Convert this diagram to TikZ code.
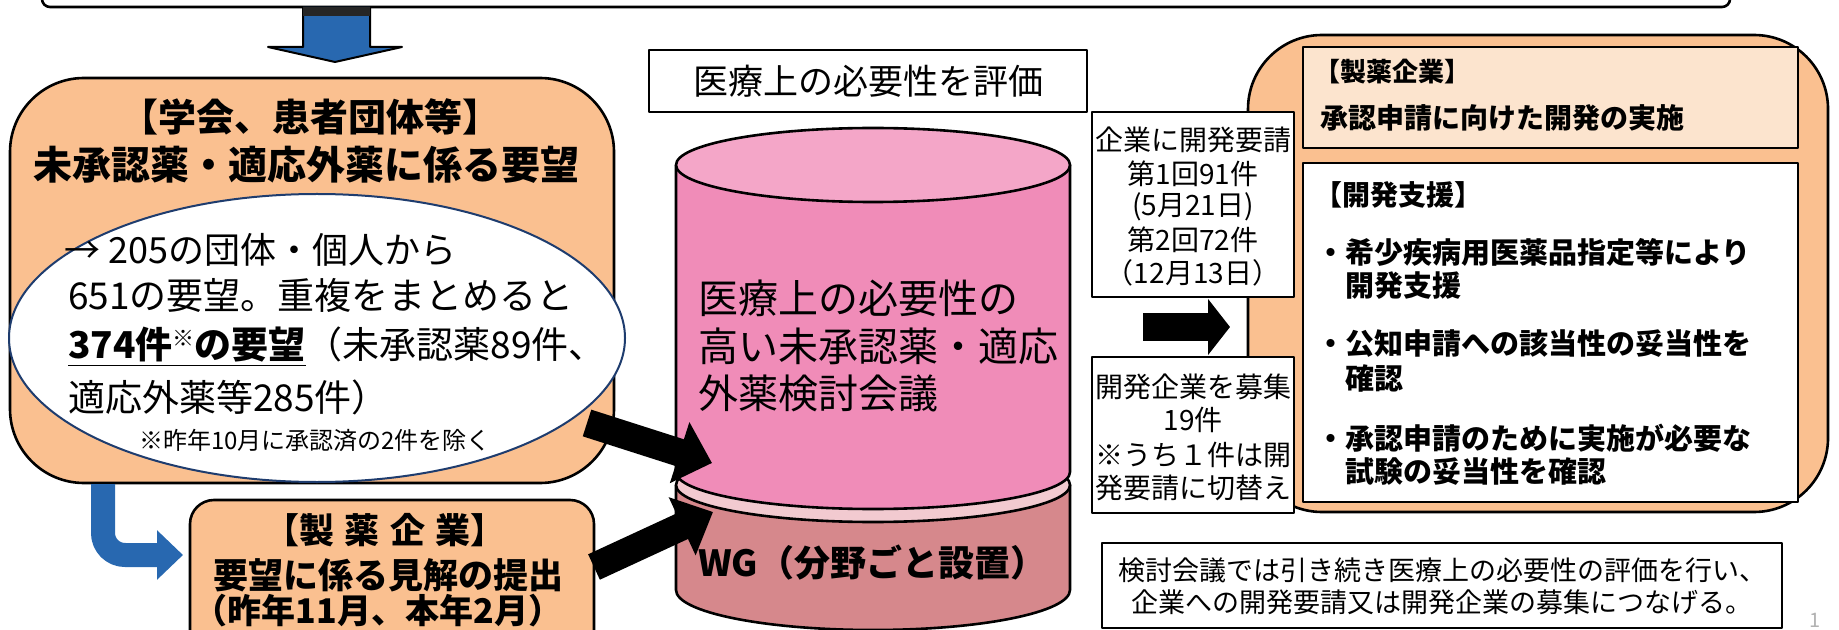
\documentclass[tikz,border=0pt]{standalone}
\usepackage{fontspec}
\setmainfont{Noto Sans CJK JP}
\usetikzlibrary{arrows.meta,fit,shapes.geometric}
\definecolor{peach}{RGB}{250,192,144}
\definecolor{peachlt}{RGB}{252,228,206}
\definecolor{cylpink}{RGB}{240,140,184}
\definecolor{cyltop}{RGB}{244,166,200}
\definecolor{cylband}{RGB}{242,202,208}
\definecolor{cyllow}{RGB}{214,136,140}
\definecolor{arrblue}{RGB}{40,104,176}
\definecolor{ellblue}{RGB}{30,60,110}
\begin{document}
\begin{tikzpicture}[x=0.5pt,y=-0.5pt,line join=round,
  frame/.style={draw=black,line width=1.3pt,inner sep=0pt,fill=white},
  orangebox/.style={frame,fill=peach},
  txt/.style={inner sep=0pt,outer sep=0pt,font=\fontsize{#1}{#1}\selectfont},
  btxt/.style={inner sep=0pt,outer sep=0pt,font=\fontsize{#1}{#1}\selectfont\bfseries},
  blockarrow/.style={black,line width=14pt,-{Triangle[length=17pt,width=31pt]}},
]
\useasboundingbox (0,0) rectangle (1839,630);
\fill[white] (0,0) rectangle (1839,630);

% top box
\node[fit={(42,-60) (1730,7)},frame,rounded corners=4pt] (topbox) {};

% blue down arrow
\draw[fill=arrblue,draw=black,line width=1pt] (303,7) -- (303,47) -- (268,47) -- (335,62) -- (402,47) -- (370,47) -- (370,7);
\fill[black!85] (303,7) rectangle (370,16);

% left box
\node[fit={(10,78) (614,483)},orangebox,rounded corners=37pt] (leftbox) {};
\node[btxt=19] (lt1) at (310,117) {【学会、患者団体等】};
\node[btxt=19.5] (lt2) at (306,165) {未承認薬・適応外薬に係る要望};

% ellipse
\node[draw=ellblue,line width=1pt,fill=white,ellipse,minimum width=308pt,minimum height=144pt,inner sep=0pt] (ell) at (317,338) {};
\node[txt=18,anchor=west] (e1) at (64,250) {→ 205の団体・個人から};
\node[txt=18.5,anchor=west] (e2) at (68,295) {651の要望。重複をまとめると};
\node[txt=18.5,anchor=west] (e3) at (68,347) {{\bfseries\underline{374件{\fontsize{11}{11}\selectfont\raisebox{0.55em}{※}}の要望}}（未承認薬89件、};
\node[txt=18.5,anchor=west] (e4) at (68,397) {適応外薬等285件）};
\node[txt=12] (e5) at (315,440) {※昨年10月に承認済の2件を除く};

% bottom pharma box
\node[fit={(190,500) (594,680)},orangebox,rounded corners=12pt] (pharma) {};
\node[btxt=17.5] (p1) at (385,530) {【製\hspace{0.3em}薬\hspace{0.3em}企\hspace{0.3em}業】};
\node[btxt=17.5] (p2) at (388,575) {要望に係る見解の提出};
\node[btxt=17] (p3) at (378,611) {（昨年11月、本年2月）};

% blue L arrow
\coordinate (lstart) at (103,484);
\coordinate (lend) at (183,555);
\draw[arrblue,line width=12pt,rounded corners=11pt,-{Triangle[length=13pt,width=24pt]}] (lstart) |- (lend);

% cylinder
\filldraw[fill=cyllow,line width=1.3pt] (676,485) -- (676,590) arc[start angle=180,end angle=0,x radius=197,y radius=40] -- (1070,485) -- cycle;
\filldraw[fill=cylband,line width=1.3pt] (873,485) ellipse[x radius=197,y radius=37];
\filldraw[fill=cylpink,line width=1.3pt] (676,165) -- (676,472) arc[start angle=180,end angle=0,x radius=197,y radius=37] -- (1070,165) -- cycle;
\filldraw[fill=cyltop,line width=1.3pt] (873,165) ellipse[x radius=197,y radius=37];
\node[txt=20,anchor=west] (c1) at (698,298) {医療上の必要性の};
\node[txt=20,anchor=west] (c2) at (698,346) {高い未承認薬・適応};
\node[txt=20,anchor=west] (c3) at (698,393) {外薬検討会議};
\node[btxt=18,anchor=west] (wg) at (698,563) {WG（分野ごと設置）};

% evaluation box
\node[fit={(649,50) (1087,112)},frame] (eval) {};
\node[txt=17.5] (evalt) at (eval.center) {医療上の必要性を評価};

% right orange box
\node[fit={(1248,35) (1828,512)},orangebox,rounded corners=37pt] (rbox) {};
\node[fit={(1303,47) (1798,148)},frame,fill=peachlt] (maker) {};
\node[fit={(1303,163) (1798,502)},frame] (support) {};
\node[btxt=13,anchor=west] (m1) at (1314,72) {【製薬企業】};
\node[btxt=14,anchor=west] (m2) at (1320,118) {承認申請に向けた開発の実施};
\node[btxt=14,anchor=west] (s0) at (1314,195) {【開発支援】};
\node[btxt=14.5,anchor=west] (s1) at (1316,252) {・希少疾病用医薬品指定等により};
\node[btxt=14.5,anchor=west] (s1b) at (1345,286) {開発支援};
\node[btxt=14.5,anchor=west] (s2) at (1316,344) {・公知申請への該当性の妥当性を};
\node[btxt=14.5,anchor=west] (s2b) at (1345,378) {確認};
\node[btxt=14.5,anchor=west] (s3) at (1316,438) {・承認申請のために実施が必要な};
\node[btxt=14.5,anchor=west] (s3b) at (1345,472) {試験の妥当性を確認};

% request box
\node[fit={(1092,112) (1294,297)},frame] (req) {};
\node[txt=14] (r1) at (1193,140) {企業に開発要請};
\node[txt=14] (r2) at (1193,174) {第1回91件};
\node[txt=14] (r3) at (1193,207) {(5月21日)};
\node[txt=14] (r4) at (1193,240) {第2回72件};
\node[txt=14] (r5) at (1193,273) {（12月13日）};

% recruit box
\node[fit={(1092,357) (1294,513)},frame] (rec) {};
\node[txt=14] (k1) at (1193,387) {開発企業を募集};
\node[txt=14] (k2) at (1193,420) {19件};
\node[txt=14] (k3) at (1193,455) {※うち１件は開};
\node[txt=14] (k4) at (1193,488) {発要請に切替え};

% black arrow right
\coordinate (ra1) at (1143,327);
\coordinate (ra2) at (1230,327);
\draw[black,line width=13.5pt,-{Triangle[length=11pt,width=27.5pt]}] (ra1) -- (ra2);

% bottom right note
\node[fit={(1102,543) (1782,628)},frame] (note) {};
\node[txt=13.5] (n1) at (1442,570) {検討会議では引き続き医療上の必要性の評価を行い、};
\node[txt=13.5] (n2) at (1442,602) {企業への開発要請又は開発企業の募集につなげる。};

% black arrows into cylinder
\coordinate (a1s) at (587,423);
\coordinate (a1e) at (712,463);
\coordinate (a2s) at (594,567);
\coordinate (a2e) at (713,512);
\draw[blockarrow] (a1s) -- (a1e);
\draw[blockarrow] (a2s) -- (a2e);

% faint page number
\node[txt=10,text=black!30,anchor=south] (pg) at (1815,627) {1};
\end{tikzpicture}
\end{document}
